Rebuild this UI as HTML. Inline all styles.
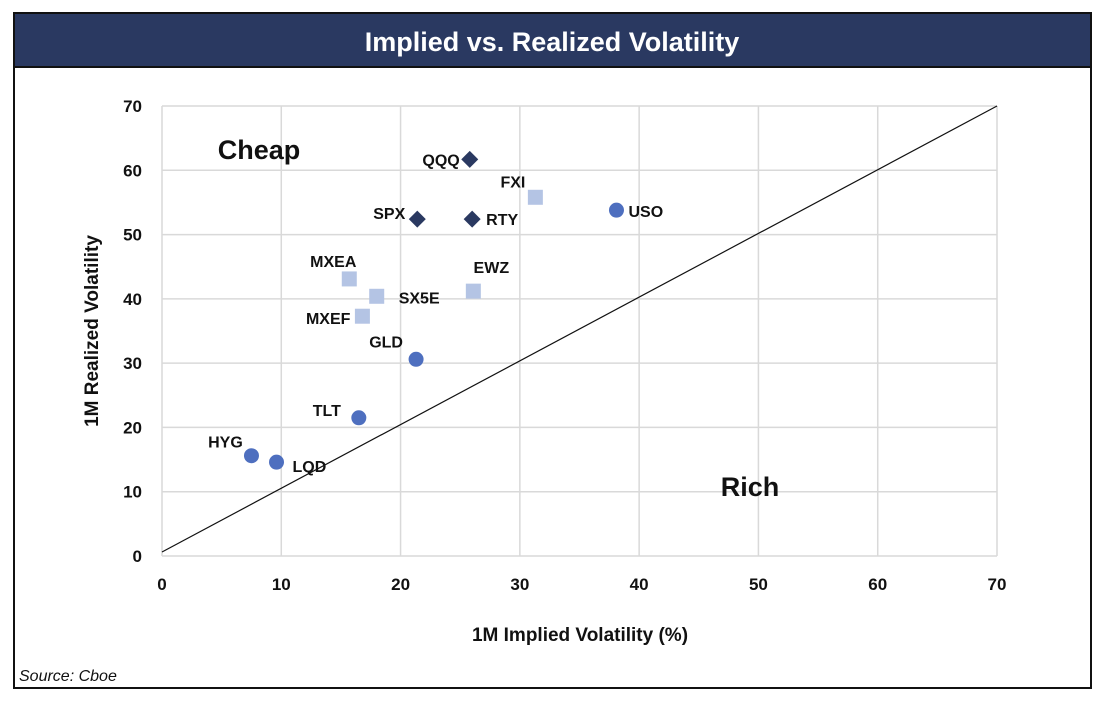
<!DOCTYPE html>
<html><head><meta charset="utf-8"><style>
body{margin:0;background:#fff;width:1102px;height:699px;overflow:hidden;font-family:"Liberation Sans",Arial,sans-serif}
</style></head><body>
<svg width="1102" height="699" xmlns="http://www.w3.org/2000/svg">
<rect x="14" y="13" width="1077" height="675" fill="#fff" stroke="#111" stroke-width="2"/>
<rect x="14" y="13" width="1077" height="54" fill="#2A3961" stroke="#111" stroke-width="2"/>
<text x="552" y="51" text-anchor="middle" fill="#fff" font-size="27" font-weight="bold">Implied vs. Realized Volatility</text>
<g id="grid"></g>
<g id="axes"></g>
<g id="marks"></g>
<text x="259" y="159" text-anchor="middle" font-size="27" font-weight="bold" fill="#111">Cheap</text>
<text x="750" y="496" text-anchor="middle" font-size="27" font-weight="bold" fill="#111">Rich</text>
<text x="580" y="641" text-anchor="middle" font-size="19" font-weight="bold" fill="#111">1M Implied Volatility (%)</text>
<text transform="translate(98,331) rotate(-90)" text-anchor="middle" font-size="19" font-weight="bold" fill="#111">1M Realized Volatility</text>
<text x="19" y="681" font-size="16" font-style="italic" fill="#111">Source: Cboe</text>
</svg>
<script>
const names=["QQQ","FXI","USO","SPX","RTY","MXEA","SX5E","EWZ","MXEF","GLD","TLT","HYG","LQD"];
const implied=[25.8,31.3,38.1,21.4,26.0,15.7,18.0,26.1,16.8,21.3,16.5,7.5,9.6];
const realized=[61.7,55.8,53.8,52.4,52.4,43.1,40.4,41.2,37.3,30.6,21.5,15.6,14.6];
const kinds=["diamond","square","circle","diamond","diamond","square","square","square","square","circle","circle","circle","circle"];
const ticks=[0,10,20,30,40,50,60,70];
const NS="http://www.w3.org/2000/svg";
const X0=162,X1=997,Y0=556,Y1=106;
const xs=v=>X0+(v/70)*(X1-X0), ys=v=>Y0-(v/70)*(Y0-Y1);
function mk(t,a,p){const e=document.createElementNS(NS,t);for(const k in a)e.setAttribute(k,a[k]);p.appendChild(e);return e;}
const grid=document.getElementById('grid'),axes=document.getElementById('axes'),marks=document.getElementById('marks');
ticks.forEach(t=>{
  const h=mk('line',{x1:X0,x2:X1,y1:ys(t),y2:ys(t),stroke:'#d9d9d9','stroke-width':1.5},grid);
  
  
  const v=mk('line',{x1:xs(t),x2:xs(t),y1:Y0,y2:Y1,stroke:'#d9d9d9','stroke-width':1.5},grid);
  
  
  const xl=mk('text',{x:xs(t),y:590,'text-anchor':'middle','font-size':17,'font-weight':'bold',fill:'#111'},axes);
  xl.textContent=t;
  
  
  const yl=mk('text',{x:142,y:ys(t)+6,'text-anchor':'end','font-size':17,'font-weight':'bold',fill:'#111'},axes);
  yl.textContent=t;
  
  
});
const diag=mk('line',{x1:xs(0),y1:ys(0)-4,x2:xs(70),y2:ys(70),stroke:'#111','stroke-width':1.2},marks);


const lab={QQQ:[-10,6,'end'],FXI:[-10,-10,'end'],USO:[12,7,'start'],SPX:[-12,0,'end'],RTY:[14,6,'start'],MXEA:[-16,-12,'middle'],SX5E:[22,7,'start'],EWZ:[18,-18,'middle'],MXEF:[-12,8,'end'],GLD:[-30,-12,'middle'],TLT:[-32,-2,'middle'],HYG:[-26,-8,'middle'],LQD:[16,10,'start']};
names.forEach((n,i)=>{
  const cx=xs(implied[i]),cy=ys(realized[i]);let m;
  if(kinds[i]==='diamond'){m=mk('polygon',{points:`${cx},${cy-8.5} ${cx+8.5},${cy} ${cx},${cy+8.5} ${cx-8.5},${cy}`,fill:'#2A3961'},marks);}
  else if(kinds[i]==='square'){m=mk('rect',{x:cx-7.5,y:cy-7.5,width:15,height:15,fill:'#B4C4E4'},marks);}
  else{m=mk('circle',{cx:cx,cy:cy,r:7.5,fill:'#4E6FBF'},marks);}
  
  
  const L=lab[n];
  const t=mk('text',{x:cx+L[0],y:cy+L[1],'text-anchor':L[2],'font-size':16,'font-weight':'bold',fill:'#111'},marks);
  t.textContent=n;
  
  
});
</script>
</body></html>
